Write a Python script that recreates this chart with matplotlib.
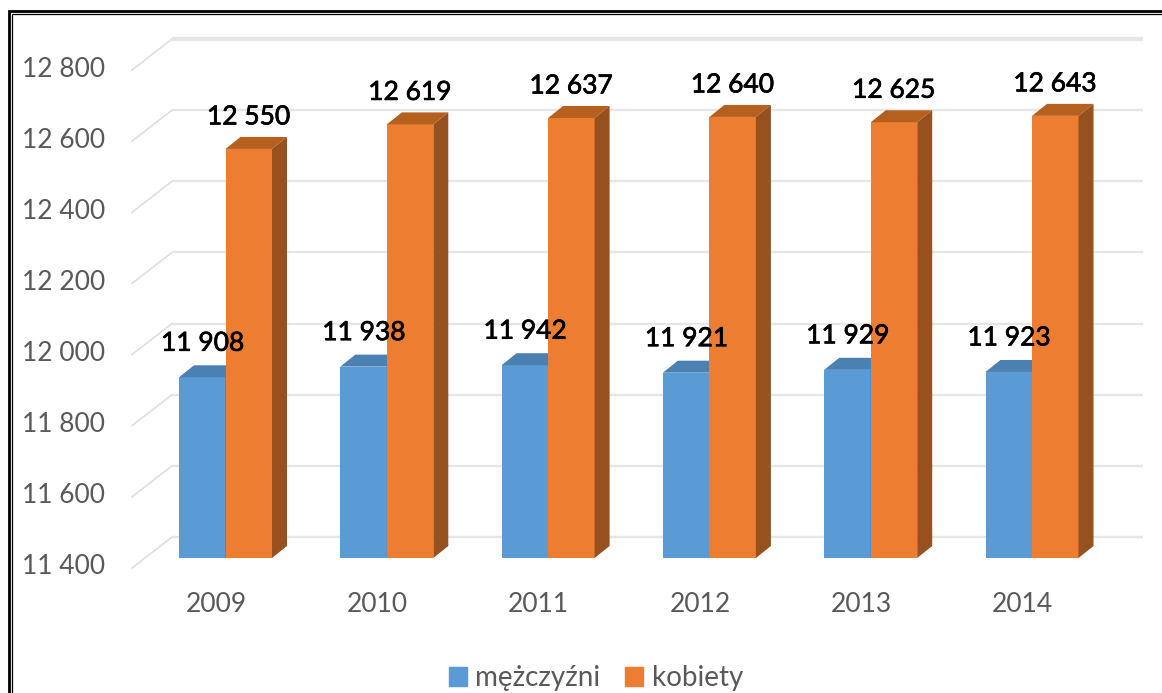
import matplotlib
matplotlib.use('Agg')
import matplotlib.pyplot as plt
import matplotlib.patheffects as pe
from matplotlib.patches import Polygon
from matplotlib.lines import Line2D

years = ['2009', '2010', '2011', '2012', '2013', '2014']
men = [11908, 11938, 11942, 11921, 11929, 11923]
women = [12550, 12619, 12637, 12640, 12625, 12643]
y_ticks = [11400, 11600, 11800, 12000, 12200, 12400, 12600, 12800]
y_labels = ['11 400', '11 600', '11 800', '12 000', '12 200', '12 400', '12 600', '12 800']
series_names = ['mężczyźni', 'kobiety']

W, H = 1162, 693
PX_X = 161.3      # px per category
PX_Y = 0.3557     # px per value unit
X0 = 225.5        # px of first blue/orange boundary
Y0 = 558          # px of 11400 on the bar plane
BASE = 11400


def dx(px):
    return px / PX_X


def dy(px):
    return px / PX_Y


plt.rcParams['font.family'] = ['Lato', 'DejaVu Sans']
fig = plt.figure(figsize=(W / 100, H / 100), dpi=100)
ax = fig.add_axes([0, 0, 1, 1])
ax.set_xlim(-X0 / PX_X, (W - X0) / PX_X)
ax.set_ylim(BASE - (H - Y0) / PX_Y, BASE + Y0 / PX_Y)
ax.axis('off')

bar_w = dx(46.5)
depth_x, depth_y = dx(15), dy(12)

# walls: diagonal on the left and long line at the back
for v, lab in zip(y_ticks, y_labels):
    lw = 3 if v == y_ticks[-1] else 1.7
    ax.plot([dx(-93.5), dx(-53.5)], [v - dy(10), v + dy(21)], color='#dedede', lw=1.2, zorder=1)
    ax.plot([dx(-53.5), dx(917.5)], [v + dy(21), v + dy(21)], color='#e6e6e6', lw=lw, zorder=1,
            solid_capstyle='butt')
    ax.text(dx(-120.5), v - dy(9), lab, ha='right', va='center', fontsize=19, color='#595959')


def bar3d(x, values, face, top, side, z):
    ax.bar(x, [v - BASE for v in values], width=bar_w, bottom=BASE, align='edge', color=face, zorder=z)
    for xi, v in zip(x, values):
        ax.add_patch(Polygon([(xi, v), (xi + bar_w, v), (xi + bar_w + depth_x, v + depth_y),
                              (xi + depth_x, v + depth_y)], color=top, lw=0, zorder=z))
        ax.add_patch(Polygon([(xi + bar_w, BASE), (xi + bar_w + depth_x, BASE + depth_y),
                              (xi + bar_w + depth_x, v + depth_y), (xi + bar_w, v)],
                             color=side, lw=0, zorder=z))


pos = list(range(len(years)))
bar3d([p - bar_w for p in pos], men, '#5b9bd5', '#4a80b2', '#3f75a6', 3)
bar3d(pos, women, '#ed7d31', '#b5601f', '#97511f', 4)

heavy = [pe.withStroke(linewidth=0.5, foreground='black')]
for p, m, k, year in zip(pos, men, women, years):
    ax.text(p - dx(23), m + dy(34), f'{m:,}'.replace(',', ' '), ha='center', va='center',
            fontsize=19, color='black', path_effects=heavy, zorder=5)
    ax.text(p + dx(23), k + dy(32), f'{k:,}'.replace(',', ' '), ha='center', va='center',
            fontsize=19, color='black', path_effects=heavy, zorder=5)
    ax.text(p - dx(9.5), BASE - dy(47), year, ha='center', va='center', fontsize=19, color='#595959')

handles = [plt.Rectangle((0, 0), 1, 1, color=c) for c in ['#5b9bd5', '#ed7d31']]
fig.legend(handles, series_names, loc='center', bbox_to_anchor=(596 / W, 1 - 678 / H), ncol=2,
           frameon=False, fontsize=20, labelcolor='#595959', handlelength=0.65, handleheight=0.65,
           handletextpad=0.3, columnspacing=0.9)

# double frame, cut off by the image at right and bottom
for off, lw in [(0, 2.0), (3.2, 0.9)]:
    xs = [(8.5 + off) / W, (8.5 + off) / W, 1]
    ys = [0, 1 - (11 + off) / H, 1 - (11 + off) / H]
    fig.add_artist(Line2D(xs, ys, color='black', lw=lw, solid_joinstyle='miter'))

fig.savefig('out.png', dpi=100)
